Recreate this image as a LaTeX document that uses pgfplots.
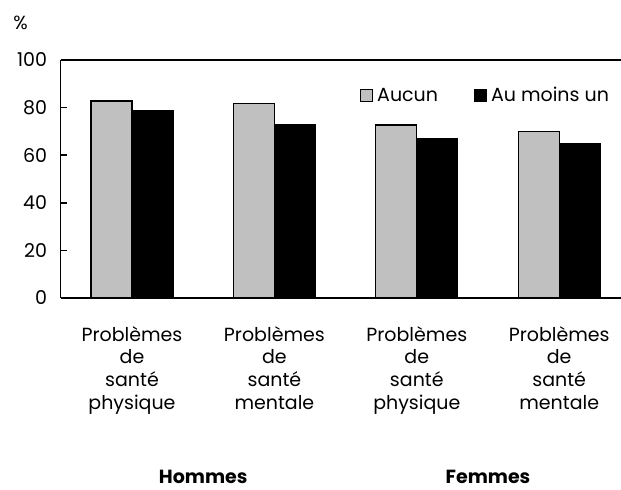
\documentclass[border=0pt]{standalone}
\usepackage{pgfplots}
\pgfplotsset{compat=1.18}
\usepackage{fontspec}
\setmainfont{Poppins}
\newcommand{\lab}{\fontsize{9.5}{11.35}\selectfont}
\begin{document}
\begin{tikzpicture}
\begin{axis}[
  at={(0,0)}, anchor=south west,
  scale only axis,
  width=280.25pt, height=119pt,
  xmin=-0.502, xmax=3.434,
  ymin=0, ymax=100,
  ytick={0,20,40,60,80,100},
  xtick={0,1,2,3},
  ytick pos=left, xtick pos=bottom,
  xticklabels={{Problèmes\\de\\santé\\physique},{Problèmes\\de\\santé\\mentale},{Problèmes\\de\\santé\\physique},{Problèmes\\de\\santé\\mentale}},
  xticklabel style={align=center, font=\lab, anchor=north, inner sep=0pt, yshift=-11pt},
  yticklabel style={font=\lab, anchor=east, inner sep=0pt, xshift=-6.5pt},
  /pgf/number format/assume math mode=true,
  major x tick style={draw=none},
  major y tick style={line width=0.75pt, black},
  tick align=inside,
  major tick length=3pt,
  axis line style={draw=none},
  ybar=0pt,
  bar width=20.5pt,
  legend style={at={(rel axis cs:0.534,0.849)}, anchor=west, draw=none, fill=none,
    legend columns=2, font=\lab, inner sep=0pt,
    /tikz/every even column/.append style={column sep=16pt}},
  legend image code/.code={\draw[#1, line width=0.5pt] (0pt,-3pt) rectangle (6pt,3pt);},
  clip=false,
]
\addplot[fill={rgb,255:red,192;green,192;blue,192}, draw=black, line width=0.6pt]
  coordinates {(0,82.8) (1,81.8) (2,72.7) (3,69.9)};
\addlegendentry{Aucun}
\addplot[fill=black, draw=black, line width=0.6pt]
  coordinates {(0,78.6) (1,72.9) (2,66.8) (3,65.0)};
\addlegendentry{Au moins un}
\draw[line width=0.75pt] (rel axis cs:0,0) -- (rel axis cs:1,0);
\draw[line width=0.75pt] (rel axis cs:0,1) -- (rel axis cs:1,1);
\draw[line width=0.75pt] (rel axis cs:0,0) -- (rel axis cs:0,1);
\node[font=\lab] at ([xshift=-20pt,yshift=18.5pt]rel axis cs:0,1) {\%};
\node[font=\lab\bfseries] at ([yshift=-89.5pt]axis cs:0.5,0) {Hommes};
\node[font=\lab\bfseries] at ([yshift=-89.5pt]axis cs:2.5,0) {Femmes};
\end{axis}
\pgfresetboundingbox
\path (-30.25pt,-95.5pt) rectangle (280.25pt,149pt);
\end{tikzpicture}
\end{document}
